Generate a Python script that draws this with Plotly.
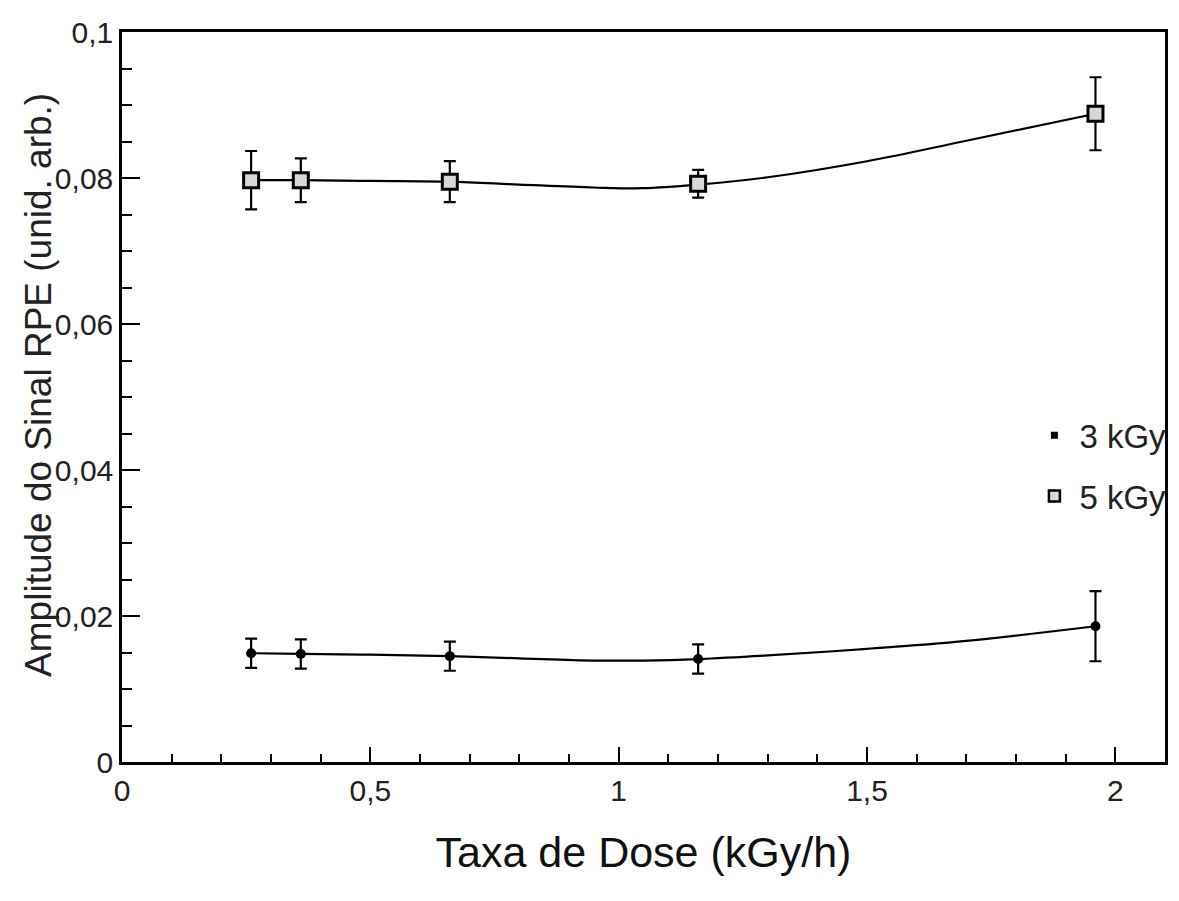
import plotly.graph_objects as go

# Dose rate (kGy/h)
dose_rate = [0.26, 0.36, 0.66, 1.16, 1.96]

# 3 kGy series
amp_3kgy = [0.0149, 0.0148, 0.0145, 0.0141, 0.0186]
err_3kgy = [0.0020, 0.0020, 0.0020, 0.0020, 0.0048]

# 5 kGy series
amp_5kgy = [0.0797, 0.0797, 0.0795, 0.0792, 0.0888]
err_5kgy = [0.0040, 0.0030, 0.0028, 0.0019, 0.0050]

# Smooth fitted curves
fit_x = [0.26, 0.36, 0.5, 0.66, 0.8, 0.95, 1.05, 1.16, 1.3, 1.5, 1.7, 1.96]
fit_3kgy = [0.0149, 0.0148, 0.0147, 0.0145, 0.0142, 0.0139, 0.0139, 0.0141, 0.0146, 0.0155, 0.0166, 0.0186]
fit_5kgy = [0.0797, 0.0797, 0.0796, 0.0795, 0.0791, 0.0787, 0.0786, 0.0791, 0.0801, 0.0823, 0.0851, 0.0888]

x_ticks = [0, 0.5, 1, 1.5, 2]
x_labels = ["0", "0,5", "1", "1,5", "2"]
y_ticks = [0, 0.02, 0.04, 0.06, 0.08, 0.1]
y_labels = ["0", "0,02", "0,04", "0,06", "0,08", "0,1"]

font_main = "Liberation Sans, Arial, sans-serif"

fig = go.Figure()

# fitted curves
fig.add_trace(go.Scatter(x=fit_x, y=fit_3kgy, mode="lines", line=dict(color="black", width=2.2, shape="spline"),
                         showlegend=False, hoverinfo="skip"))
fig.add_trace(go.Scatter(x=fit_x, y=fit_5kgy, mode="lines", line=dict(color="black", width=2.2, shape="spline"),
                         showlegend=False, hoverinfo="skip"))

# data points
fig.add_trace(go.Scatter(x=dose_rate, y=amp_3kgy, mode="markers",
                         marker=dict(symbol="circle", size=10, color="black"),
                         error_y=dict(type="data", array=err_3kgy, color="black", thickness=2.2, width=6),
                         showlegend=False))
fig.add_trace(go.Scatter(x=dose_rate, y=amp_5kgy, mode="markers",
                         marker=dict(symbol="square", size=15, color="#d8d8d8", line=dict(color="black", width=3)),
                         error_y=dict(type="data", array=err_5kgy, color="black", thickness=2.2, width=6),
                         showlegend=False))

# legend entries
fig.add_trace(go.Scatter(x=[None], y=[None], mode="markers", name="3 kGy", legendgroup="a",
                         marker=dict(symbol="square", size=7, color="black")))
fig.add_trace(go.Scatter(x=[None], y=[None], mode="markers", name="5 kGy", legendgroup="b",
                         marker=dict(symbol="square", size=11, color="#d8d8d8", line=dict(color="black", width=2.5))))

fig.update_layout(
    width=1171, height=893,
    margin=dict(l=114, r=8, t=24, b=139),
    paper_bgcolor="white", plot_bgcolor="white",
    font=dict(family=font_main, color="black"),
    showlegend=True,
    legend=dict(x=0.870, y=0.486, xanchor="left", yanchor="top", bgcolor="rgba(0,0,0,0)",
                font=dict(size=33, family=font_main, color="#222"), tracegroupgap=15,
                traceorder="grouped", itemsizing="trace", itemwidth=40),
    xaxis=dict(range=[0, 2.1], tickvals=x_ticks, ticktext=x_labels,
               ticks="inside", ticklen=15, tickwidth=2, tickcolor="black",
               minor=dict(dtick=0.1, ticks="inside", ticklen=8, tickwidth=1.5, tickcolor="black"),
               showline=True, linecolor="black", linewidth=2.5, mirror=True,
               showgrid=False, zeroline=False,
               tickfont=dict(size=30, family=font_main, color="#222"),
               title=dict(text="Taxa de Dose (kGy/h)", standoff=32,
                          font=dict(size=43, family=font_main, color="#111"))),
    yaxis=dict(range=[0, 0.1], tickvals=y_ticks, ticktext=y_labels,
               ticks="inside", ticklen=18, tickwidth=2, tickcolor="black",
               minor=dict(dtick=0.005, ticks="inside", ticklen=10, tickwidth=1.5, tickcolor="black"),
               showline=True, linecolor="black", linewidth=2.5, mirror=True,
               showgrid=False, zeroline=False,
               tickfont=dict(size=30, family=font_main, color="#222")),
    annotations=[dict(text="Amplitude do Sinal RPE (unid. arb.)", textangle=-90,
                      xref="paper", yref="paper", x=-0.080, y=0.516,
                      xanchor="center", yanchor="middle", showarrow=False,
                      font=dict(size=37, family=font_main, color="#222"))],
)

fig.write_html("out.html")
